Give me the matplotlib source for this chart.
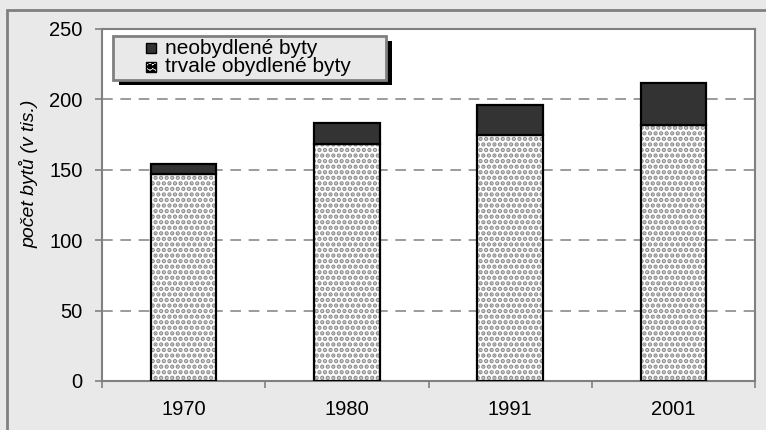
import matplotlib
matplotlib.use("Agg")
import matplotlib.pyplot as plt
from matplotlib.patches import Rectangle

plt.rcParams['font.family'] = ['Liberation Sans', 'DejaVu Sans']

years = ["1970", "1980", "1991", "2001"]
trvale = [147, 168, 175, 182]
neobydlene = [7, 15, 21, 30]
series_labels = ["neobydlené byty", "trvale obydlené byty"]

bg = '#e9e9e9'
grey = '#808080'
dark = '#333333'
stipple = '...'

plt.rcParams['hatch.color'] = '#8c8c8c'
plt.rcParams['hatch.linewidth'] = 2.2

fig = plt.figure(figsize=(7.66, 4.30), dpi=100, facecolor=bg)
ax = fig.add_axes([102 / 766, 49 / 430, 653 / 766, 352 / 430])
ax.set_facecolor('white')

x = list(range(len(years)))
w = 0.4

# stippled lower part, then black outline on top
ax.bar(x, trvale, w, color='white', hatch=stipple, linewidth=0, zorder=3)
ax.bar(x, trvale, w, fill=False, edgecolor='black', linewidth=1.6, zorder=4)
ax.bar(x, neobydlene, w, bottom=trvale, color=dark, edgecolor='black', linewidth=1.6, zorder=4)

ax.set_xlim(-0.5, len(years) - 0.5)
ax.set_ylim(0, 250)
ax.set_yticks(range(0, 251, 50))
ax.yaxis.grid(True, color=grey, linestyle=(0, (7, 5)), linewidth=1.1, zorder=1)

ax.set_xticks(x)
ax.set_xticklabels(years)
ax.set_xticks([i - 0.5 for i in range(len(years) + 1)], minor=True)
ax.tick_params(axis='x', which='major', length=0, pad=14, labelsize=14.5)
ax.tick_params(axis='x', which='minor', length=5, color=grey, width=1.2)
ax.tick_params(axis='y', length=5, color=grey, width=1.2, pad=9, labelsize=14.5)

for s in ax.spines.values():
    s.set_color(grey)
    s.set_linewidth(1.5)

ax.set_ylabel("počet bytů (v tis.)", fontstyle='italic', fontsize=14)
ax.yaxis.set_label_coords(-0.097, 0.588)

# legend drawn by hand in pixel coordinates (Excel style with shadow)
lx, ly, lw, lh = 113, 430 - 80, 273, 44
ax.add_patch(Rectangle((lx + 6, ly - 5), lw, lh, transform=None, facecolor='black',
                       edgecolor='none', zorder=9, clip_on=False))
ax.add_patch(Rectangle((lx, ly), lw, lh, transform=None, facecolor=bg,
                       edgecolor=grey, linewidth=2, zorder=10, clip_on=False))
for i, (lab, kw) in enumerate(zip(series_labels,
                                   [dict(facecolor=dark), dict(facecolor='white', hatch='ooo')])):
    cy = ly + lh - 12 - i * 19
    ax.add_patch(Rectangle((146, cy - 5), 10, 10, transform=None, edgecolor='black',
                           linewidth=1, zorder=11, clip_on=False, **kw))
    ax.text(165, cy, lab, transform=None, fontsize=15, va='center', ha='left', zorder=12)

# outer figure frame (right and bottom are cut off in the original)
fig.patches.append(Rectangle((7, -10), 800, 430, transform=None,
                             fill=False, edgecolor=grey, linewidth=2))

fig.savefig("out.png", dpi=100, facecolor=bg)
